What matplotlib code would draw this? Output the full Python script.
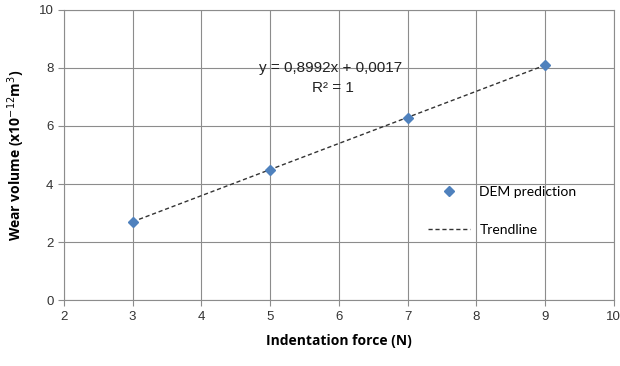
import matplotlib
matplotlib.use("Agg")
import matplotlib.pyplot as plt
import numpy as np

force = [3, 5, 7, 9]
wear = [2.70, 4.50, 6.28, 8.10]
slope = 0.8992
intercept = 0.0017
xticks = [2, 3, 4, 5, 6, 7, 8, 9, 10]
yticks = [0, 2, 4, 6, 8, 10]

fig = plt.figure(figsize=(6.2, 3.66), dpi=100)
ax = fig.add_axes([0.103, 0.180, 0.887, 0.793])

gridc = "#8c8c8c"
tx = np.array([min(force), max(force)])
ax.plot(tx, slope * tx + intercept, linestyle=(0, (3, 2)), color="#333333", lw=1.0,
        label="Trendline", zorder=2)
ax.plot(force, wear, linestyle="none", marker="D", markersize=5.5, color="#4F81BD",
        label="DEM prediction", zorder=3)

ax.set_xlim(2, 10)
ax.set_ylim(0, 10)
ax.set_xticks(xticks)
ax.set_yticks(yticks)
ax.grid(True, color=gridc, lw=0.8)
ax.set_axisbelow(True)
for s in ax.spines.values():
    s.set_color(gridc)
    s.set_linewidth(0.8)
ax.tick_params(axis="both", colors=gridc, length=4, width=0.8, labelcolor="#333333",
               labelsize=9.5)
for lbl in ax.get_xticklabels() + ax.get_yticklabels():
    lbl.set_fontfamily("Liberation Sans")

ax.set_xlabel("Indentation force (N)", fontsize=10, fontweight="bold",
              family="Open Sans", labelpad=8)
ax.set_ylabel("Wear volume (x10$^{-12}$m$^{3}$)", fontsize=10, fontweight="bold",
              family="Open Sans", labelpad=8)

handles, labels = ax.get_legend_handles_labels()
leg = ax.legend(handles[::-1], labels[::-1], loc="center left",
                bbox_to_anchor=(0.662, 0.307), frameon=False,
                handlelength=3.0, handletextpad=0.7, labelspacing=1.85,
                borderpad=0, borderaxespad=0,
                prop={"family": "Lato", "size": 10})

fig.text(331 / 620, 1 - 68 / 366, "y = 0,8992x + 0,0017", fontsize=11,
         family="Liberation Sans", ha="center", va="center", color="#222222")
fig.text(333 / 620, 1 - 88 / 366, "R² = 1", fontsize=11,
         family="Liberation Sans", ha="center", va="center", color="#222222")

fig.savefig("out.png", dpi=100, facecolor="white")
